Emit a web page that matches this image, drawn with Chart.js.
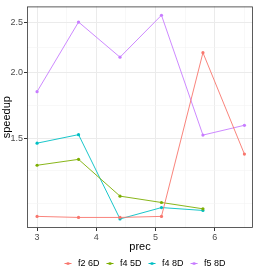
<!DOCTYPE html>
<html>
<head>
<meta charset="utf-8">
<script src="https://cdn.jsdelivr.net/npm/chart.js@4/dist/chart.umd.min.js"></script>
<style>
  html, body { margin: 0; padding: 0; background: #fff; }
</style>
</head>
<body>
<canvas id="graphique" width="257" height="270"></canvas>
<script>
// valeurs (axe y en échelle log)
const prec = [3, 3.7, 4.4, 5.1, 5.8, 6.5];
const f2_6D = [1.064, 1.059, 1.059, 1.064, 2.185, 1.399];
const f4_5D = [1.332, 1.367, 1.163, 1.131, 1.100];
const f4_8D = [1.468, 1.524, 1.052, 1.106, 1.092];
const f5_8D = [1.841, 2.500, 2.142, 2.576, 1.521, 1.588];
const nomsSeries = ['f2 6D', 'f4 5D', 'f4 8D', 'f5 8D'];
const couleurs = ['#F8766D', '#7CAE00', '#00BFC4', '#C77CFF'];
const xTicks = [3, 4, 5, 6];
const yTicks = [1.5, 2.0, 2.5];

// grilles mineures au milieu des majeures (comme ggplot)
const xMinor = [3.5, 4.5, 5.5, 6.5];
const yMinor = [
  yTicks[0] / Math.sqrt(yTicks[1] / yTicks[0]) / Math.sqrt(yTicks[1] / yTicks[0]),
  yTicks[0] / Math.sqrt(yTicks[1] / yTicks[0]),
  Math.sqrt(yTicks[0] * yTicks[1]),
  Math.sqrt(yTicks[1] * yTicks[2])
];

const toutesSeries = [f2_6D, f4_5D, f4_8D, f5_8D];

// petite icône de légende : trait + point
function cleLegende(couleur) {
  const c = document.createElement('canvas');
  c.width = 9; c.height = 5;
  const g = c.getContext('2d');
  g.strokeStyle = couleur;
  g.lineWidth = 1;
  g.beginPath(); g.moveTo(1, 2.5); g.lineTo(8, 2.5); g.stroke();
  g.fillStyle = couleur;
  g.beginPath(); g.arc(4.5, 2.5, 1.5, 0, Math.PI * 2); g.fill();
  return c;
}

const cadre = {
  id: 'cadre',
  afterDatasetsDraw(chart) {
    const { ctx, chartArea: a } = chart;
    ctx.save();
    ctx.strokeStyle = '#333333';
    ctx.lineWidth = 0.8;
    ctx.strokeRect(a.left + 0.5, a.top + 0.5, a.right - a.left - 1, a.bottom - a.top - 1);
    ctx.restore();
  }
};

const legendeHauteur = {
  id: 'legendeHauteur',
  beforeInit(chart) {
    const fitOrig = chart.legend.fit;
    chart.legend.fit = function () {
      fitOrig.bind(chart.legend)();
      this.height = 16;
    };
  },
  afterLayout(chart) {
    // centrer la légende sur le panneau, pas sur tout le canvas
    chart.legend.left = chart.chartArea.left + 4;
    chart.legend.right = chart.chartArea.right + 4;
  }
};

const estMajeurX = v => xTicks.includes(v);
const estMajeurY = v => yTicks.some(t => Math.abs(t - v) < 1e-6);

new Chart(document.getElementById('graphique'), {
  type: 'line',
  data: {
    datasets: toutesSeries.map((serie, i) => ({
      label: nomsSeries[i],
      data: serie.map((v, j) => ({ x: prec[j], y: v })),
      borderColor: couleurs[i],
      backgroundColor: couleurs[i],
      borderWidth: 0.9,
      pointRadius: 1.6,
      pointBorderWidth: 0,
      pointBackgroundColor: couleurs[i],
      tension: 0,
      fill: false
    }))
  },
  options: {
    responsive: false,
    animation: false,
    layout: { padding: { top: 1, right: 1, left: 0, bottom: 0 } },
    scales: {
      x: {
        type: 'linear',
        min: 2.83,
        max: 6.645,
        afterBuildTicks(scale) {
          scale.ticks = [...xTicks, ...xMinor].sort((a, b) => a - b).map(v => ({ value: v }));
        },
        afterFit(scale) { scale.height = 26; },
        ticks: {
          autoSkip: false,
          maxRotation: 0,
          padding: 1,
          color: '#4D4D4D',
          font: { family: 'Liberation Sans', size: 9 },
          callback: v => estMajeurX(v) ? String(v) : ''
        },
        grid: {
          color: c => estMajeurX(c.tick.value) ? '#EBEBEB' : '#F3F3F3',
          lineWidth: c => estMajeurX(c.tick.value) ? 1 : 0.6,
          tickColor: c => estMajeurX(c.tick.value) ? '#333333' : 'rgba(0,0,0,0)',
          tickLength: 3
        },
        border: { display: false },
        title: {
          display: true,
          text: 'prec',
          color: '#000',
          font: { family: 'Liberation Sans', size: 11 },
          padding: { top: 0, bottom: 0 }
        }
      },
      y: {
        type: 'logarithmic',
        min: 1.011,
        max: 2.678,
        afterBuildTicks(scale) {
          scale.ticks = [...yMinor, ...yTicks].sort((a, b) => a - b).map(v => ({ value: v }));
        },
        afterFit(scale) { scale.width = 27; },
        ticks: {
          autoSkip: false,
          padding: 1,
          color: '#4D4D4D',
          font: { family: 'Liberation Sans', size: 9 },
          callback: v => estMajeurY(v) ? v.toFixed(1) : ''
        },
        grid: {
          color: c => estMajeurY(c.tick.value) ? '#EBEBEB' : '#F3F3F3',
          lineWidth: c => estMajeurY(c.tick.value) ? 1 : 0.6,
          tickColor: c => estMajeurY(c.tick.value) ? '#333333' : 'rgba(0,0,0,0)',
          tickLength: 3
        },
        border: { display: false },
        title: {
          display: true,
          text: 'speedup',
          color: '#000',
          font: { family: 'Liberation Sans', size: 11 },
          padding: { top: 0, bottom: 2 }
        }
      }
    },
    plugins: {
      tooltip: { enabled: false },
      legend: {
        position: 'bottom',
        labels: {
          color: '#000',
          font: { family: 'Liberation Sans', size: 9 },
          usePointStyle: true,
          pointStyleWidth: 11,
          boxHeight: 5,
          padding: 5,
          generateLabels: chart => chart.data.datasets.map((d, i) => ({
            text: d.label,
            pointStyle: cleLegende(couleurs[i]),
            fillStyle: couleurs[i],
            strokeStyle: couleurs[i],
            lineWidth: 0,
            hidden: false,
            datasetIndex: i,
            fontColor: '#000'
          }))
        }
      }
    }
  },
  plugins: [cadre, legendeHauteur]
});
</script>
</body>
</html>
